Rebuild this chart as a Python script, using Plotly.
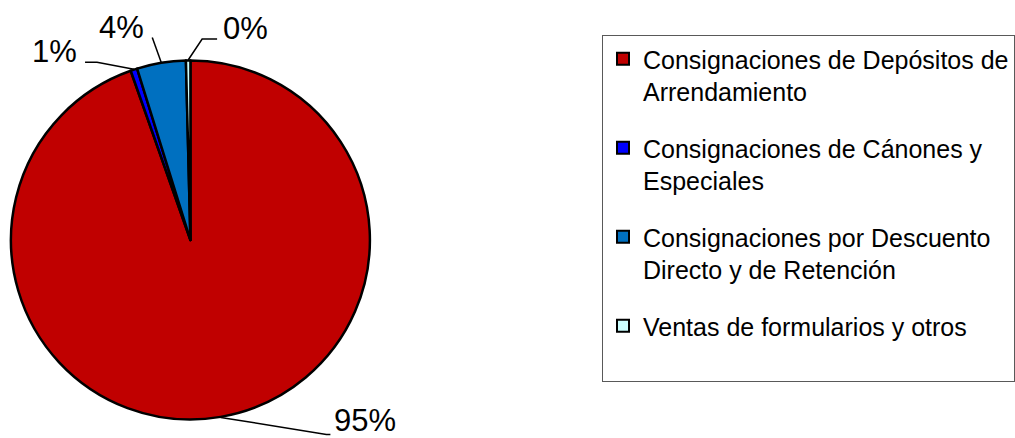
import math
import plotly.graph_objects as go

# ---- data ----
categories = [
    "Consignaciones de Depósitos de<br>Arrendamiento",
    "Consignaciones de Cánones y<br>Especiales",
    "Consignaciones por Descuento<br>Directo y de Retención",
    "Ventas de formularios y otros",
]
values = [94.6, 0.6, 4.4, 0.4]
pct_labels = ["95%", "1%", "4%", "0%"]
colors = ["#C00000", "#0000FF", "#0070C0", "#CCFFFF"]

# ---- layout constants (pixels) ----
W, H = 1015, 438
CX, CY, R = 191, 240, 180

def px(x):
    return x / W

def py(y):
    return 1 - y / H

# leader geometry relative to rim point: elbow, end, text anchor (dx, dy), text xanchor
leader_elbow = [(106, 17), (-37, -7), (-9, -25), (14, -21)]
leader_end = [(110, 17), (-49, -7), (-9, -25), (29, -21)]
text_off = [(112, 3), (-55, -18), (-15, -35), (33, -32)]
text_anchor = ["left", "right", "right", "left"]

fig = go.Figure()
fig.add_trace(go.Pie(
    labels=categories,
    values=values,
    sort=False,
    direction="clockwise",
    rotation=0,
    marker=dict(colors=colors, line=dict(color="black", width=2.5)),
    textinfo="none",
    hoverinfo="label+percent",
    showlegend=False,
    domain=dict(x=[px(CX - R), px(CX + R)], y=[py(CY + R), py(CY - R)]),
))

# legend entries (one group per category so spacing can be controlled)
for i, (lab, col) in enumerate(zip(categories, colors)):
    name = lab + ("<br> " if i == len(categories) - 1 else "")
    fig.add_trace(go.Scatter(
        x=[None], y=[None], mode="markers", name=name,
        legendgroup=f"g{i}",
        marker=dict(symbol="square", size=12, color=col,
                    line=dict(color="black", width=2)),
        hoverinfo="skip",
    ))

# percent labels with leader lines, computed from slice mid-angles
total = sum(values)
cum = 0.0
shapes = []
annotations = []
for i, v in enumerate(values):
    mid = (cum + v / 2) / total * 2 * math.pi
    cum += v
    rx = CX + R * math.sin(mid)
    ry = CY - R * math.cos(mid)
    ex, ey = rx + leader_elbow[i][0], ry + leader_elbow[i][1]
    tx, ty = rx + leader_end[i][0], ry + leader_end[i][1]
    path = f"M {px(rx)},{py(ry)} L {px(ex)},{py(ey)} L {px(tx)},{py(ty)}"
    shapes.append(dict(type="path", xref="paper", yref="paper", path=path,
                       line=dict(color="black", width=1.5)))
    lx, ly = rx + text_off[i][0], ry + text_off[i][1]
    annotations.append(dict(
        x=px(lx), y=py(ly), xref="paper", yref="paper",
        text=pct_labels[i], showarrow=False,
        xanchor=text_anchor[i], yanchor="middle",
        font=dict(family="Arial, Liberation Sans, sans-serif", size=31, color="black"),
    ))

fig.update_layout(
    width=W, height=H,
    margin=dict(l=0, r=0, t=0, b=0),
    paper_bgcolor="white",
    plot_bgcolor="white",
    xaxis=dict(visible=False),
    yaxis=dict(visible=False),
    shapes=shapes,
    annotations=annotations,
    showlegend=True,
    legend=dict(
        x=px(604), y=py(35), xanchor="left", yanchor="top",
        bgcolor="white", bordercolor="#595959", borderwidth=1,
        font=dict(family="Arial, Liberation Sans, sans-serif", size=25, color="black"),
        valign="top",
        tracegroupgap=21,
        traceorder="grouped",
        itemclick=False, itemdoubleclick=False,
    ),
)

fig.write_html("out.html")
